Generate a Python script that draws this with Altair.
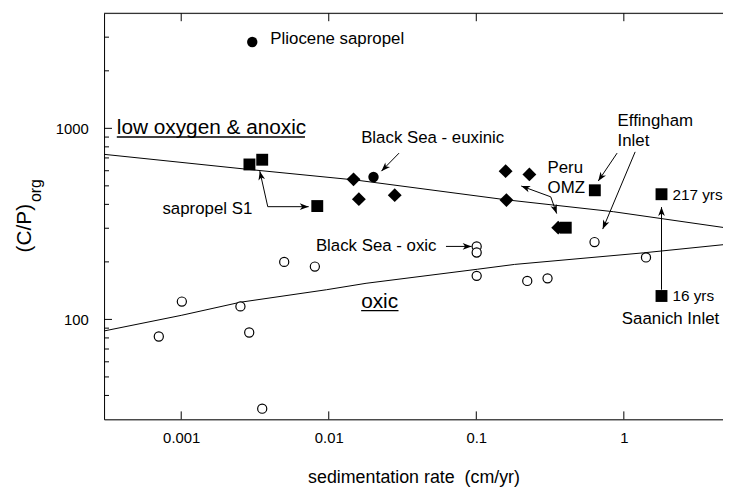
import math
import altair as alt
import pandas as pd

# ---------------- scales ----------------
X_DOMAIN = [0.0003, 4.7]
Y_DOMAIN = [30, 4000]
W, H = 625, 410
FONT = "Liberation Sans"

# ---------------- data ----------------
# open circles (oxic sites)
open_x = [0.000705, 0.00101, 0.00252, 0.00289, 0.00354, 0.00499, 0.00805,
          0.1006, 0.1006, 0.1006, 0.2215, 0.304, 0.633, 1.413]
open_y = [81.4, 124, 117, 85.4, 34.1, 200, 189, 241, 224, 169, 159, 164, 254, 211]

# filled circles (Pliocene sapropel, Black Sea euxinic)
fcirc_x = [0.00303, 0.0201]
fcirc_y = [2830, 556]

# filled squares
square_x = [0.00290, 0.00354, 0.00836, 0.404, 0.636, 1.80, 1.80]
square_y = [647, 685, 392, 302, 474, 452, 132.6]

# filled diamonds
diamond_x = [0.01472, 0.0160, 0.0280, 0.158, 0.160, 0.229, 0.359]
diamond_y = [541, 426, 447, 597, 421, 574, 302]

# boundary curves
upper_x = [0.0003, 0.00289, 0.01534, 0.158, 0.853, 4.7]
upper_y = [731, 609, 536, 423, 366, 303]
lower_x = [0.0003, 0.001, 0.00252, 0.00966, 0.0179, 0.1016, 0.1819, 1.356, 4.7]
lower_y = [87.0, 105, 123, 143, 154.5, 183, 194, 223, 246]

# annotation labels (left x, baseline y in data units)
big_text = ["low oxygen & anoxic", "oxic"]
big_x = [0.000366, 0.01658]
big_y = [935, 115]

mid_text = ["Pliocene sapropel", "Black Sea - euxinic", "sapropel S1", "Black Sea - oxic",
            "Peru", "OMZ", "Effingham", "Inlet", "Saanich Inlet"]
mid_x = [0.00402, 0.01658, 0.000746, 0.00818, 0.304, 0.304, 0.907, 0.907, 0.9697]
mid_y = [2753, 836, 356, 229, 586, 459, 1024, 809, 94.2]

small_text = ["217 yrs", "16 yrs"]
small_x = [2.133, 2.133]
small_y = [422, 125.4]

# underlines below the two region labels
uline_x = [0.000366, 0.01658]
uline_x2 = [0.0069, 0.0297]
uline_y = [901, 111.3]

# arrows: polylines in data units, heads at start / end
arrow_s1_x = [0.00341, 0.00386, 0.00731]
arrow_s1_y = [597, 389, 389]
arrow_eux_x = [0.02996, 0.02275]
arrow_eux_y = [742, 597]
arrow_peru_x = [0.2017, 0.3197, 0.3506]
arrow_peru_y = [499, 438, 358]
arrow_eff1_x = [0.9002, 0.671]
arrow_eff1_y = [742, 530]
arrow_eff2_x = [1.193, 0.7194]
arrow_eff2_y = [753, 297]
arrow_saan_x = [1.80, 1.80]
arrow_saan_y = [143, 387]
arrow_oxic_x = [0.0623, 0.0929]
arrow_oxic_y = [241, 241]

arrows = [
    ("s1", arrow_s1_x, arrow_s1_y, True, True),
    ("eux", arrow_eux_x, arrow_eux_y, False, True),
    ("peru", arrow_peru_x, arrow_peru_y, True, True),
    ("eff1", arrow_eff1_x, arrow_eff1_y, False, True),
    ("eff2", arrow_eff2_x, arrow_eff2_y, False, True),
    ("saan", arrow_saan_x, arrow_saan_y, False, True),
    ("oxic", arrow_oxic_x, arrow_oxic_y, False, True),
]

# ---------------- helpers ----------------
kx = W / (math.log10(X_DOMAIN[1]) - math.log10(X_DOMAIN[0]))
ky = H / (math.log10(Y_DOMAIN[1]) - math.log10(Y_DOMAIN[0]))


def direction(x0, y0, x1, y1):
    dx = (math.log10(x1) - math.log10(x0)) * kx
    dy = -(math.log10(y1) - math.log10(y0)) * ky
    return math.degrees(math.atan2(dy, dx)) % 360


arrow_rows, head_rows = [], []
for name, xs, ys, h0, h1 in arrows:
    for i, (a, b) in enumerate(zip(xs, ys)):
        arrow_rows.append({"id": name, "seq": i, "x": a, "y": b})
    if h0:
        head_rows.append({"x": xs[0], "y": ys[0], "angle": direction(xs[1], ys[1], xs[0], ys[0])})
    if h1:
        head_rows.append({"x": xs[-1], "y": ys[-1], "angle": direction(xs[-2], ys[-2], xs[-1], ys[-1])})

arrow_df = pd.DataFrame(arrow_rows)
head_df = pd.DataFrame(head_rows)

curve_df = pd.concat([
    pd.DataFrame({"curve": "upper", "seq": range(len(upper_x)), "x": upper_x, "y": upper_y}),
    pd.DataFrame({"curve": "lower", "seq": range(len(lower_x)), "x": lower_x, "y": lower_y}),
])

xscale = alt.Scale(type="log", domain=X_DOMAIN, nice=False)
yscale = alt.Scale(type="log", domain=Y_DOMAIN, nice=False)

xaxis = alt.Axis(values=[0.001, 0.01, 0.1, 1], format="~g", labelFont=FONT, labelFontSize=15,
                 labelColor="black", labelPadding=11, ticks=False, tickSize=0, grid=False,
                 domainColor="black", domainWidth=1, labelFlush=False, labelOverlap=False,
                 title="sedimentation rate\u00a0 (cm/yr)", titleFont=FONT, titleFontSize=18,
                 titleFontWeight="normal", titleColor="black", titlePadding=24)
yaxis = alt.Axis(values=[100, 1000], format="~g", labelFont=FONT, labelFontSize=15,
                 labelColor="black", labelPadding=16, ticks=False, tickSize=0, grid=False,
                 domainColor="black", domainWidth=1, labelFlush=False, labelOverlap=False,
                 title=None)

X = alt.X("x:Q", scale=xscale, axis=xaxis)
Y = alt.Y("y:Q", scale=yscale, axis=yaxis)

curves = alt.Chart(curve_df).mark_line(color="black", strokeWidth=1).encode(
    x=X, y=Y, detail="curve:N", order="seq:Q")

arrow_lines = alt.Chart(arrow_df).mark_line(color="black", strokeWidth=1).encode(
    x=X, y=Y, detail="id:N", order="seq:Q")

ARROW = "M0,0 L-2,-0.75 L-1.45,0 L-2,0.75 Z"
heads = alt.Chart(head_df).mark_point(shape=ARROW, filled=True, color="black", size=81,
                                      opacity=1).encode(
    x=X, y=Y, angle=alt.Angle("angle:Q", scale=None))

open_pts = alt.Chart(pd.DataFrame({"x": open_x, "y": open_y})).mark_point(
    shape="circle", filled=False, fill="white", fillOpacity=1, stroke="black",
    strokeWidth=1.2, size=85, opacity=1).encode(x=X, y=Y)

fcirc = alt.Chart(pd.DataFrame({"x": fcirc_x, "y": fcirc_y})).mark_point(
    shape="circle", filled=True, color="black", size=110, opacity=1).encode(x=X, y=Y)

squares = alt.Chart(pd.DataFrame({"x": square_x, "y": square_y})).mark_point(
    shape="square", filled=True, color="black", size=144, opacity=1).encode(x=X, y=Y)

diamonds = alt.Chart(pd.DataFrame({"x": diamond_x, "y": diamond_y})).mark_point(
    shape="diamond", filled=True, color="black", size=196, opacity=1).encode(x=X, y=Y)


def text_layer(texts, xs, ys, fs):
    return alt.Chart(pd.DataFrame({"x": xs, "y": ys, "t": texts})).mark_text(
        align="left", baseline="alphabetic", font=FONT, fontSize=fs, color="black").encode(
        x=X, y=Y, text="t:N")


big = text_layer(big_text, big_x, big_y, 21)
mid = text_layer(mid_text, mid_x, mid_y, 17)
small = text_layer(small_text, small_x, small_y, 15.5)

ulines = alt.Chart(pd.DataFrame({"x": uline_x, "x2": uline_x2, "y": uline_y})).mark_rule(
    color="black", strokeWidth=1.3).encode(x=X, x2="x2:Q", y=Y)

# inward tick marks and top frame line
left_minor = [40, 50, 60, 70, 80, 90, 200, 300, 400, 500, 600, 700, 800, 900, 2000, 3000]
left_major = [100, 1000]
x_major = [0.001, 0.01, 0.1, 1]

tick_minor = alt.Chart(pd.DataFrame({"y": left_minor})).mark_rule(color="black", strokeWidth=1).encode(
    y=Y, x=alt.value(0), x2=alt.value(5))
tick_major = alt.Chart(pd.DataFrame({"y": left_major})).mark_rule(color="black", strokeWidth=1).encode(
    y=Y, x=alt.value(0), x2=alt.value(8))
tick_bottom = alt.Chart(pd.DataFrame({"x": x_major})).mark_rule(color="black", strokeWidth=1).encode(
    x=X, y=alt.value(H), y2=alt.value(H - 8))
tick_top = alt.Chart(pd.DataFrame({"x": x_major})).mark_rule(color="black", strokeWidth=1).encode(
    x=X, y=alt.value(0), y2=alt.value(8))
top_line = alt.Chart(pd.DataFrame({"a": [0]})).mark_rule(color="black", strokeWidth=1).encode(
    x=alt.value(0), x2=alt.value(W), y=alt.value(0))

ytitle = alt.Chart(pd.DataFrame({"t": ["(C/P)"]})).mark_text(
    font=FONT, fontSize=21, angle=270, align="center", baseline="middle", color="black").encode(
    text="t:N", x=alt.value(-80), y=alt.value(217))
ysub = alt.Chart(pd.DataFrame({"t": ["org"]})).mark_text(
    font=FONT, fontSize=16, angle=270, align="center", baseline="middle", color="black").encode(
    text="t:N", x=alt.value(-68.5), y=alt.value(179))

chart = alt.layer(
    curves, arrow_lines, heads, open_pts, fcirc, squares, diamonds,
    big, mid, small, ulines,
    tick_minor, tick_major, tick_bottom, tick_top, top_line, ytitle, ysub,
).properties(
    width=W, height=H,
    padding={"left": 97, "top": 3, "right": 0, "bottom": 66},
    autosize=alt.AutoSizeParams(type="none"),
).configure_view(stroke=None).configure(background="white")

chart.save("out.html", embed_options={"renderer": "svg", "actions": False})
